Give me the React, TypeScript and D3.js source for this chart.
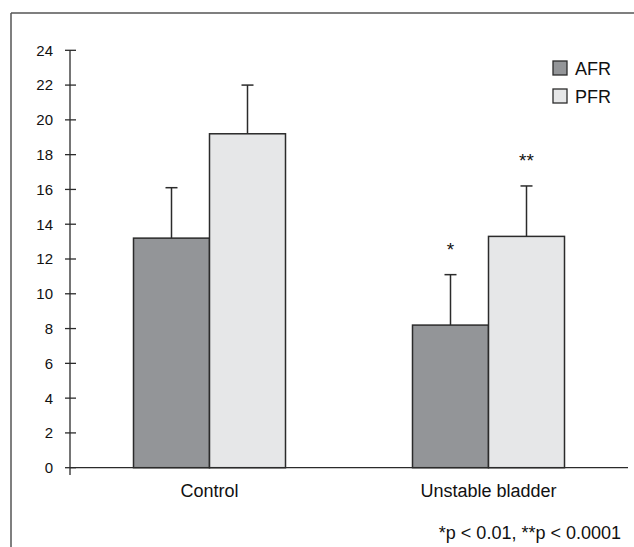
import React from "react";
import { scaleLinear, scaleBand, range } from "d3";

const categories = ["Control", "Unstable bladder"];
const series = ["AFR", "PFR"];
const afrMean = [13.2, 8.2];
const afrSd = [2.9, 2.9];
const pfrMean = [19.2, 13.3];
const pfrSd = [2.8, 2.9];
const stars = [["", ""], ["*", "**"]];
const yTicks = range(0, 25, 2);
const footnote = "*p < 0.01, **p < 0.0001";

const colors = { AFR: "#939598", PFR: "#e6e7e8" };
const font = "Liberation Sans, Arial, Helvetica, sans-serif";
const ink = "#2b2b2b";
const textInk = "#111";

const W = 634;
const H = 547;
const axisX = 70;
const axisRight = 628;
const y0 = 467.7;
const yTop = 50.3;

export default function App() {
  const y = scaleLinear().domain([0, 24]).range([y0, yTop]);
  const x = scaleBand().domain(categories).range([axisX, axisRight]);
  const sub = scaleBand().domain(series).range([-76, 76]);

  const rows = categories.map((c, i) => [
    { s: "AFR", v: afrMean[i], sd: afrSd[i], star: stars[i][0] },
    { s: "PFR", v: pfrMean[i], sd: pfrSd[i], star: stars[i][1] },
  ]);

  return (
    <svg
      width={W}
      height={H}
      style={{ position: "absolute", left: 0, top: 0, background: "#fff" }}
      fontFamily={font}
    >
      {/* frame */}
      <line x1={11} x2={W} y1={13} y2={13} stroke="#555" strokeWidth={1.5} />
      <line x1={11} x2={11} y1={13} y2={H} stroke="#555" strokeWidth={1.5} />

      {/* bars */}
      {categories.map((c, i) => {
        const cx = (x(c) as number) + x.bandwidth() / 2;
        return (
          <g key={c}>
            {rows[i].map((d) => {
              const bx = cx + (sub(d.s) as number);
              const mid = bx + sub.bandwidth() / 2;
              const top = y(d.v + d.sd);
              return (
                <g key={d.s}>
                  <line x1={mid} x2={mid} y1={y(d.v)} y2={top} stroke={ink} strokeWidth={1.5} />
                  <line x1={mid - 6} x2={mid + 6} y1={top} y2={top} stroke={ink} strokeWidth={1.5} />
                  <rect
                    x={bx}
                    y={y(d.v)}
                    width={sub.bandwidth()}
                    height={y0 - y(d.v)}
                    fill={colors[d.s as "AFR" | "PFR"]}
                    stroke={ink}
                    strokeWidth={1.5}
                  />
                  {d.star && (
                    <text x={mid} y={top - 19} textAnchor="middle" fontSize={19} fill={textInk}>
                      {d.star}
                    </text>
                  )}
                </g>
              );
            })}
            <text x={cx} y={497} textAnchor="middle" fontSize={18} fill={textInk}>
              {c}
            </text>
          </g>
        );
      })}

      {/* axes */}
      <line x1={axisX} x2={axisRight} y1={y0} y2={y0} stroke={ink} strokeWidth={1.3} />
      <line x1={axisX} x2={axisX} y1={yTop} y2={475} stroke={ink} strokeWidth={1.3} />
      {yTicks.map((t) => (
        <g key={t}>
          <line x1={65} x2={76} y1={y(t)} y2={y(t)} stroke={ink} strokeWidth={1.3} />
          <text x={53} y={y(t)} dy="0.36em" textAnchor="end" fontSize={15} fill={textInk}>
            {t}
          </text>
        </g>
      ))}

      {/* legend */}
      {series.map((s, i) => (
        <g key={s} transform={`translate(553,${61 + i * 28})`}>
          <rect width={14} height={14} fill={colors[s as "AFR" | "PFR"]} stroke={ink} strokeWidth={1.3} />
          <text x={22} y={14} fontSize={18} fill={textInk}>
            {s}
          </text>
        </g>
      ))}

      <text x={621} y={539} textAnchor="end" fontSize={18} fill={textInk}>
        {footnote}
      </text>
    </svg>
  );
}
